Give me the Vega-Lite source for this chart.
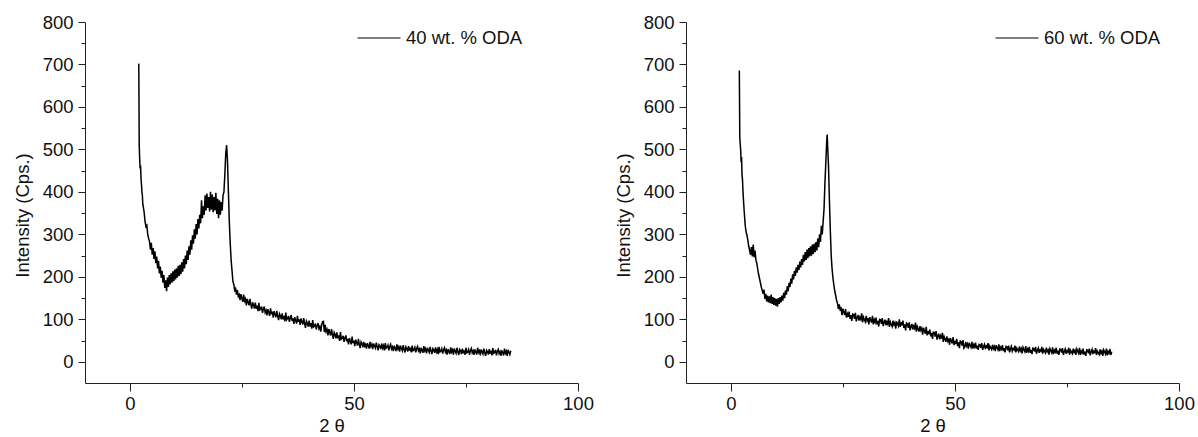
{
 "$schema": "https://vega.github.io/schema/vega-lite/v6.json",
 "padding": {"left": 13, "top": 13, "right": 0, "bottom": 0},
 "datasets": {
  "a": [
   {"t":2.0,"i":702},{"t":2.1,"i":510},{"t":2.2,"i":478},{"t":2.3,"i":455},{"t":2.4,"i":462},{"t":2.5,"i":430},{"t":2.6,"i":418},{"t":2.7,"i":400},{"t":2.8,"i":392},{"t":2.9,"i":371},{"t":3.0,"i":365},{"t":3.2,"i":352},{"t":3.4,"i":330},{"t":3.6,"i":318},{"t":3.8,"i":321},{"t":4.0,"i":300},{"t":4.2,"i":290},{"t":4.4,"i":283},{"t":4.6,"i":264},{"t":4.8,"i":280},{"t":5.0,"i":252},{"t":5.2,"i":268},{"t":5.4,"i":242},{"t":5.6,"i":260},{"t":5.8,"i":232},{"t":6.0,"i":248},{"t":6.2,"i":220},{"t":6.4,"i":238},{"t":6.6,"i":208},{"t":6.8,"i":224},{"t":7.0,"i":198},{"t":7.2,"i":214},{"t":7.4,"i":186},{"t":7.6,"i":204},{"t":7.8,"i":174},{"t":8.0,"i":192},{"t":8.2,"i":166},{"t":8.4,"i":198},{"t":8.6,"i":176},{"t":8.8,"i":204},{"t":9.0,"i":182},{"t":9.2,"i":208},{"t":9.4,"i":186},{"t":9.6,"i":213},{"t":9.8,"i":190},{"t":10.0,"i":217},{"t":10.2,"i":194},{"t":10.4,"i":220},{"t":10.6,"i":198},{"t":10.8,"i":226},{"t":11.0,"i":202},{"t":11.2,"i":228},{"t":11.4,"i":206},{"t":11.6,"i":234},{"t":11.8,"i":212},{"t":12.0,"i":242},{"t":12.2,"i":220},{"t":12.4,"i":250},{"t":12.6,"i":230},{"t":12.8,"i":262},{"t":13.0,"i":240},{"t":13.2,"i":272},{"t":13.4,"i":252},{"t":13.6,"i":286},{"t":13.8,"i":264},{"t":14.0,"i":298},{"t":14.2,"i":278},{"t":14.4,"i":312},{"t":14.6,"i":290},{"t":14.8,"i":324},{"t":15.0,"i":300},{"t":15.2,"i":336},{"t":15.4,"i":314},{"t":15.6,"i":346},{"t":15.8,"i":326},{"t":16.0,"i":380},{"t":16.2,"i":338},{"t":16.4,"i":366},{"t":16.6,"i":346},{"t":16.8,"i":392},{"t":17.0,"i":356},{"t":17.2,"i":396},{"t":17.4,"i":362},{"t":17.6,"i":388},{"t":17.8,"i":354},{"t":18.0,"i":400},{"t":18.2,"i":358},{"t":18.4,"i":394},{"t":18.6,"i":352},{"t":18.8,"i":388},{"t":19.0,"i":356},{"t":19.2,"i":398},{"t":19.4,"i":348},{"t":19.6,"i":384},{"t":19.8,"i":338},{"t":20.0,"i":380},{"t":20.2,"i":346},{"t":20.4,"i":376},{"t":20.6,"i":356},{"t":20.8,"i":392},{"t":21.0,"i":400},{"t":21.2,"i":440},{"t":21.4,"i":490},{"t":21.6,"i":510},{"t":21.8,"i":470},{"t":22.0,"i":400},{"t":22.2,"i":330},{"t":22.4,"i":280},{"t":22.6,"i":240},{"t":22.8,"i":215},{"t":23.0,"i":190},{"t":23.2,"i":182},{"t":23.4,"i":168},{"t":23.6,"i":172},{"t":23.8,"i":158},
   {"t":24.0,"i":169},{"t":24.2,"i":154},{"t":24.4,"i":158},{"t":24.6,"i":145},{"t":24.8,"i":159},{"t":25.0,"i":150},{"t":25.2,"i":141},{"t":25.4,"i":158},{"t":25.6,"i":143},{"t":25.8,"i":148},{"t":26.0,"i":133},{"t":26.2,"i":148},{"t":26.4,"i":140},{"t":26.6,"i":133},{"t":26.8,"i":148},{"t":27.0,"i":135},{"t":27.2,"i":125},{"t":27.4,"i":140},{"t":27.6,"i":134},{"t":27.8,"i":125},{"t":28.0,"i":139},{"t":28.2,"i":125},{"t":28.4,"i":132},{"t":28.6,"i":119},{"t":28.8,"i":139},{"t":29.0,"i":122},{"t":29.2,"i":124},{"t":29.4,"i":130},{"t":29.6,"i":115},{"t":29.8,"i":124},
   {"t":30.0,"i":130},{"t":30.2,"i":116},{"t":30.4,"i":121},{"t":30.6,"i":109},{"t":30.8,"i":124},{"t":31.0,"i":116},{"t":31.2,"i":108},{"t":31.4,"i":126},{"t":31.6,"i":112},{"t":31.8,"i":118},{"t":32.0,"i":104},{"t":32.2,"i":119},{"t":32.4,"i":111},{"t":32.6,"i":105},{"t":32.8,"i":120},{"t":33.0,"i":107},{"t":33.2,"i":98},{"t":33.4,"i":113},{"t":33.6,"i":108},{"t":33.8,"i":100},{"t":34.0,"i":114},{"t":34.2,"i":100},{"t":34.4,"i":108},{"t":34.6,"i":95},{"t":34.8,"i":116},{"t":35.0,"i":99},{"t":35.2,"i":102},{"t":35.4,"i":108},{"t":35.6,"i":94},{"t":35.8,"i":103},
   {"t":36.0,"i":110},{"t":36.2,"i":96},{"t":36.4,"i":102},{"t":36.6,"i":89},{"t":36.8,"i":105},{"t":37.0,"i":97},{"t":37.2,"i":90},{"t":37.4,"i":108},{"t":37.6,"i":94},{"t":37.8,"i":100},{"t":38.0,"i":87},{"t":38.2,"i":102},{"t":38.4,"i":94},{"t":38.6,"i":88},{"t":38.8,"i":103},{"t":39.0,"i":90},{"t":39.2,"i":80},{"t":39.4,"i":96},{"t":39.6,"i":91},{"t":39.8,"i":83},{"t":40.0,"i":97},{"t":40.2,"i":83},{"t":40.4,"i":91},{"t":40.6,"i":78},{"t":40.8,"i":98},{"t":41.0,"i":82},{"t":41.2,"i":84},{"t":41.4,"i":90},{"t":41.6,"i":76},{"t":41.8,"i":85},
   {"t":42.0,"i":91},{"t":42.2,"i":78},{"t":42.4,"i":83},{"t":42.6,"i":71},{"t":42.8,"i":86},{"t":43.0,"i":94},{"t":43.2,"i":95},{"t":43.4,"i":70},{"t":43.6,"i":87},{"t":43.8,"i":71},{"t":44.0,"i":76},{"t":44.2,"i":62},{"t":44.4,"i":77},{"t":44.6,"i":69},{"t":44.8,"i":62},{"t":45.0,"i":77},{"t":45.2,"i":64},{"t":45.4,"i":54},{"t":45.6,"i":69},{"t":45.8,"i":64},{"t":46.0,"i":55},{"t":46.2,"i":69},{"t":46.4,"i":55},{"t":46.6,"i":62},{"t":46.8,"i":49},{"t":47.0,"i":70},{"t":47.2,"i":53},{"t":47.4,"i":55},{"t":47.6,"i":61},{"t":47.8,"i":47},
   {"t":48.0,"i":56},{"t":48.2,"i":62},{"t":48.4,"i":48},{"t":48.6,"i":54},{"t":48.8,"i":41},{"t":49.0,"i":56},{"t":49.2,"i":48},{"t":49.4,"i":41},{"t":49.6,"i":59},{"t":49.8,"i":44},{"t":50.0,"i":50},{"t":50.2,"i":37},{"t":50.4,"i":52},{"t":50.6,"i":45},{"t":50.8,"i":38},{"t":51.0,"i":54},{"t":51.2,"i":41},{"t":51.4,"i":32},{"t":51.6,"i":47},{"t":51.8,"i":43},{"t":52.0,"i":34},
   {"t":52.2,"i":47},{"t":52.4,"i":37},{"t":52.6,"i":41},{"t":52.8,"i":31},{"t":53.0,"i":44},{"t":53.2,"i":38},{"t":53.4,"i":31},{"t":53.6,"i":47},{"t":53.8,"i":36},{"t":54.0,"i":41},{"t":54.2,"i":30},{"t":54.4,"i":43},{"t":54.6,"i":37},{"t":54.8,"i":32},{"t":55.0,"i":45},{"t":55.2,"i":35},{"t":55.4,"i":27},{"t":55.6,"i":40},{"t":55.8,"i":37},{"t":56.0,"i":30},{"t":56.2,"i":43},{"t":56.4,"i":32},{"t":56.6,"i":38},{"t":56.8,"i":27},{"t":57.0,"i":44},{"t":57.2,"i":32},{"t":57.4,"i":34},{"t":57.6,"i":39},{"t":57.8,"i":27},{"t":58.0,"i":36},
   {"t":58.2,"i":41},{"t":58.4,"i":30},{"t":58.6,"i":35},{"t":58.8,"i":25},{"t":59.0,"i":38},{"t":59.2,"i":32},{"t":59.4,"i":25},{"t":59.6,"i":41},{"t":59.8,"i":30},{"t":60.0,"i":35},{"t":60.2,"i":24},{"t":60.4,"i":38},{"t":60.6,"i":31},{"t":60.8,"i":26},{"t":61.0,"i":39},{"t":61.2,"i":29},{"t":61.4,"i":22},{"t":61.6,"i":35},{"t":61.8,"i":31},{"t":62.0,"i":24},{"t":62.2,"i":37},{"t":62.4,"i":26},{"t":62.6,"i":33},{"t":62.8,"i":22},{"t":63.0,"i":38},{"t":63.2,"i":26},{"t":63.4,"i":28},{"t":63.6,"i":34},{"t":63.8,"i":22},{"t":64.0,"i":31},
   {"t":64.2,"i":36},{"t":64.4,"i":26},{"t":64.6,"i":30},{"t":64.8,"i":20},{"t":65.0,"i":33},{"t":65.2,"i":27},{"t":65.4,"i":21},{"t":65.6,"i":37},{"t":65.8,"i":26},{"t":66.0,"i":31},{"t":66.2,"i":20},{"t":66.4,"i":33},{"t":66.6,"i":27},{"t":66.8,"i":22},{"t":67.0,"i":35},{"t":67.2,"i":25},{"t":67.4,"i":18},{"t":67.6,"i":31},{"t":67.8,"i":28},{"t":68.0,"i":21},{"t":68.2,"i":34},{"t":68.4,"i":23},{"t":68.6,"i":29},{"t":68.8,"i":18},{"t":69.0,"i":35},{"t":69.2,"i":23},{"t":69.4,"i":25},{"t":69.6,"i":31},{"t":69.8,"i":19},{"t":70.0,"i":28},
   {"t":70.2,"i":33},{"t":70.4,"i":23},{"t":70.6,"i":28},{"t":70.8,"i":17},{"t":71.0,"i":30},{"t":71.2,"i":24},{"t":71.4,"i":18},{"t":71.6,"i":34},{"t":71.8,"i":23},{"t":72.0,"i":28},{"t":72.2,"i":17},{"t":72.4,"i":31},{"t":72.6,"i":25},{"t":72.8,"i":20},{"t":73.0,"i":33},{"t":73.2,"i":23},{"t":73.4,"i":16},{"t":73.6,"i":29},{"t":73.8,"i":26},{"t":74.0,"i":18},{"t":74.2,"i":31},{"t":74.4,"i":20},{"t":74.6,"i":27},{"t":74.8,"i":16},{"t":75.0,"i":33},{"t":75.2,"i":21},{"t":75.4,"i":23},{"t":75.6,"i":29},{"t":75.8,"i":17},{"t":76.0,"i":26},
   {"t":76.2,"i":31},{"t":76.4,"i":21},{"t":76.6,"i":26},{"t":76.8,"i":16},{"t":77.0,"i":29},{"t":77.2,"i":23},{"t":77.4,"i":17},{"t":77.6,"i":33},{"t":77.8,"i":22},{"t":78.0,"i":26},{"t":78.2,"i":15},{"t":78.4,"i":29},{"t":78.6,"i":23},{"t":78.8,"i":18},{"t":79.0,"i":31},{"t":79.2,"i":21},{"t":79.4,"i":14},{"t":79.6,"i":27},{"t":79.8,"i":24},{"t":80.0,"i":17},{"t":80.2,"i":30},{"t":80.4,"i":19},{"t":80.6,"i":26},{"t":80.8,"i":15},{"t":81.0,"i":32},{"t":81.2,"i":20},{"t":81.4,"i":22},{"t":81.6,"i":28},{"t":81.8,"i":15},{"t":82.0,"i":24},
   {"t":82.2,"i":29},{"t":82.4,"i":19},{"t":82.6,"i":24},{"t":82.8,"i":14},{"t":83.0,"i":27},{"t":83.2,"i":21},{"t":83.4,"i":15},{"t":83.6,"i":31},{"t":83.8,"i":20},{"t":84.0,"i":25},{"t":84.2,"i":14},{"t":84.4,"i":28},{"t":84.6,"i":22},{"t":84.8,"i":17},{"t":85.0,"i":26}
  ],
  "b": [
   {"t":1.9,"i":686},{"t":2.0,"i":530},{"t":2.1,"i":512},{"t":2.2,"i":498},{"t":2.3,"i":470},{"t":2.4,"i":482},{"t":2.5,"i":440},{"t":2.6,"i":430},{"t":2.7,"i":405},{"t":2.8,"i":385},{"t":2.9,"i":368},{"t":3.0,"i":352},{"t":3.1,"i":338},{"t":3.2,"i":322},{"t":3.4,"i":306},{"t":3.6,"i":298},{"t":3.8,"i":286},{"t":4.0,"i":272},{"t":4.2,"i":262},{"t":4.4,"i":252},{"t":4.6,"i":270},{"t":4.8,"i":248},{"t":5.0,"i":276},{"t":5.2,"i":246},{"t":5.4,"i":262},{"t":5.6,"i":240},{"t":5.8,"i":232},{"t":6.0,"i":218},{"t":6.2,"i":206},{"t":6.4,"i":196},{"t":6.6,"i":186},{"t":6.8,"i":176},{"t":7.0,"i":168},{"t":7.2,"i":160},{"t":7.4,"i":170},{"t":7.6,"i":148},{"t":7.8,"i":160},{"t":8.0,"i":142},{"t":8.2,"i":156},{"t":8.4,"i":140},{"t":8.6,"i":154},{"t":8.8,"i":138},{"t":9.0,"i":158},{"t":9.2,"i":136},{"t":9.4,"i":152},{"t":9.6,"i":134},{"t":9.8,"i":150},{"t":10.0,"i":132},{"t":10.2,"i":148},{"t":10.4,"i":130},{"t":10.6,"i":150},{"t":10.8,"i":136},{"t":11.0,"i":152},{"t":11.2,"i":140},{"t":11.4,"i":156},{"t":11.6,"i":144},{"t":11.8,"i":162},{"t":12.0,"i":150},{"t":12.2,"i":168},{"t":12.4,"i":158},{"t":12.6,"i":178},{"t":12.8,"i":166},{"t":13.0,"i":186},{"t":13.2,"i":176},{"t":13.4,"i":196},{"t":13.6,"i":184},{"t":13.8,"i":206},{"t":14.0,"i":194},{"t":14.2,"i":214},{"t":14.4,"i":202},{"t":14.6,"i":222},{"t":14.8,"i":210},{"t":15.0,"i":228},{"t":15.2,"i":216},{"t":15.4,"i":236},{"t":15.6,"i":222},{"t":15.8,"i":242},{"t":16.0,"i":228},{"t":16.2,"i":252},{"t":16.4,"i":236},{"t":16.6,"i":258},{"t":16.8,"i":240},{"t":17.0,"i":264},{"t":17.2,"i":244},{"t":17.4,"i":268},{"t":17.6,"i":248},{"t":17.8,"i":272},{"t":18.0,"i":250},{"t":18.2,"i":276},{"t":18.4,"i":254},{"t":18.6,"i":278},{"t":18.8,"i":258},{"t":19.0,"i":282},{"t":19.2,"i":262},{"t":19.4,"i":290},{"t":19.6,"i":270},{"t":19.8,"i":300},{"t":20.0,"i":282},{"t":20.2,"i":320},{"t":20.4,"i":300},{"t":20.6,"i":330},{"t":20.8,"i":360},{"t":21.0,"i":420},{"t":21.2,"i":470},{"t":21.4,"i":520},{"t":21.5,"i":535},{"t":21.6,"i":510},{"t":21.8,"i":460},{"t":22.0,"i":380},{"t":22.2,"i":310},{"t":22.4,"i":250},{"t":22.6,"i":218},{"t":22.8,"i":196},{"t":23.0,"i":180},{"t":23.2,"i":166},{"t":23.4,"i":156},{"t":23.6,"i":144},{"t":23.8,"i":138},
   {"t":24.0,"i":124},{"t":24.2,"i":135},{"t":24.4,"i":123},{"t":24.6,"i":126},{"t":24.8,"i":110},{"t":25.0,"i":125},{"t":25.2,"i":117},{"t":25.4,"i":110},{"t":25.6,"i":124},{"t":25.8,"i":104},{"t":26.0,"i":113},{"t":26.2,"i":106},{"t":26.4,"i":118},{"t":26.6,"i":101},{"t":26.8,"i":110},{"t":27.0,"i":96},{"t":27.2,"i":112},{"t":27.4,"i":111},{"t":27.6,"i":101},{"t":27.8,"i":115},{"t":28.0,"i":95},{"t":28.2,"i":104},{"t":28.4,"i":110},{"t":28.6,"i":97},{"t":28.8,"i":105},{"t":29.0,"i":100},{"t":29.2,"i":114},{"t":29.4,"i":93},{"t":29.6,"i":105},{"t":29.8,"i":99},
   {"t":30.0,"i":94},{"t":30.2,"i":108},{"t":30.4,"i":97},{"t":30.6,"i":103},{"t":30.8,"i":88},{"t":31.0,"i":105},{"t":31.2,"i":99},{"t":31.4,"i":92},{"t":31.6,"i":108},{"t":31.8,"i":88},{"t":32.0,"i":99},{"t":32.2,"i":93},{"t":32.4,"i":104},{"t":32.6,"i":88},{"t":32.8,"i":96},{"t":33.0,"i":83},{"t":33.2,"i":100},{"t":33.4,"i":99},{"t":33.6,"i":89},{"t":33.8,"i":103},{"t":34.0,"i":84},{"t":34.2,"i":93},{"t":34.4,"i":99},{"t":34.6,"i":86},{"t":34.8,"i":94},{"t":35.0,"i":89},{"t":35.2,"i":103},{"t":35.4,"i":82},{"t":35.6,"i":94},{"t":35.8,"i":88},
   {"t":36.0,"i":83},{"t":36.2,"i":97},{"t":36.4,"i":87},{"t":36.6,"i":92},{"t":36.8,"i":78},{"t":37.0,"i":95},{"t":37.2,"i":89},{"t":37.4,"i":84},{"t":37.6,"i":100},{"t":37.8,"i":82},{"t":38.0,"i":93},{"t":38.2,"i":86},{"t":38.4,"i":97},{"t":38.6,"i":80},{"t":38.8,"i":88},{"t":39.0,"i":74},{"t":39.2,"i":91},{"t":39.4,"i":89},{"t":39.6,"i":80},{"t":39.8,"i":93},{"t":40.0,"i":74},{"t":40.2,"i":83},{"t":40.4,"i":89},{"t":40.6,"i":76},{"t":40.8,"i":84},{"t":41.0,"i":79},{"t":41.2,"i":92},{"t":41.4,"i":71},{"t":41.6,"i":83},{"t":41.8,"i":77},
   {"t":42.0,"i":71},{"t":42.2,"i":84},{"t":42.4,"i":74},{"t":42.6,"i":79},{"t":42.8,"i":64},{"t":43.0,"i":80},{"t":43.2,"i":73},{"t":43.4,"i":66},{"t":43.6,"i":82},{"t":43.8,"i":62},{"t":44.0,"i":72},{"t":44.2,"i":65},{"t":44.4,"i":76},{"t":44.6,"i":60},{"t":44.8,"i":68},{"t":45.0,"i":54},{"t":45.2,"i":70},{"t":45.4,"i":69},{"t":45.6,"i":59},{"t":45.8,"i":72},{"t":46.0,"i":52},{"t":46.2,"i":60},{"t":46.4,"i":66},{"t":46.6,"i":53},{"t":46.8,"i":61},{"t":47.0,"i":55},{"t":47.2,"i":68},{"t":47.4,"i":47},{"t":47.6,"i":59},{"t":47.8,"i":53},
   {"t":48.0,"i":47},{"t":48.2,"i":60},{"t":48.4,"i":49},{"t":48.6,"i":55},{"t":48.8,"i":40},{"t":49.0,"i":56},{"t":49.2,"i":49},{"t":49.4,"i":43},{"t":49.6,"i":58},{"t":49.8,"i":39},{"t":50.0,"i":49},{"t":50.2,"i":42},{"t":50.4,"i":54},{"t":50.6,"i":37},{"t":50.8,"i":46},{"t":51.0,"i":32},{"t":51.2,"i":49},{"t":51.4,"i":47},{"t":51.6,"i":38},{"t":51.8,"i":51},{"t":52.0,"i":32},
   {"t":52.2,"i":35},{"t":52.4,"i":47},{"t":52.6,"i":37},{"t":52.8,"i":42},{"t":53.0,"i":31},{"t":53.2,"i":45},{"t":53.4,"i":39},{"t":53.6,"i":34},{"t":53.8,"i":47},{"t":54.0,"i":31},{"t":54.2,"i":40},{"t":54.4,"i":35},{"t":54.6,"i":45},{"t":54.8,"i":31},{"t":55.0,"i":38},{"t":55.2,"i":28},{"t":55.4,"i":41},{"t":55.6,"i":40},{"t":55.8,"i":33},{"t":56.0,"i":44},{"t":56.2,"i":28},{"t":56.4,"i":36},{"t":56.6,"i":41},{"t":56.8,"i":30},{"t":57.0,"i":37},{"t":57.2,"i":34},{"t":57.4,"i":44},{"t":57.6,"i":27},{"t":57.8,"i":37},{"t":58.0,"i":33},
   {"t":58.2,"i":29},{"t":58.4,"i":40},{"t":58.6,"i":31},{"t":58.8,"i":36},{"t":59.0,"i":25},{"t":59.2,"i":39},{"t":59.4,"i":33},{"t":59.6,"i":28},{"t":59.8,"i":41},{"t":60.0,"i":25},{"t":60.2,"i":34},{"t":60.4,"i":30},{"t":60.6,"i":39},{"t":60.8,"i":25},{"t":61.0,"i":32},{"t":61.2,"i":22},{"t":61.4,"i":36},{"t":61.6,"i":35},{"t":61.8,"i":27},{"t":62.0,"i":38},{"t":62.2,"i":22},{"t":62.4,"i":30},{"t":62.6,"i":36},{"t":62.8,"i":25},{"t":63.0,"i":31},{"t":63.2,"i":28},{"t":63.4,"i":38},{"t":63.6,"i":22},{"t":63.8,"i":32},{"t":64.0,"i":28},
   {"t":64.2,"i":24},{"t":64.4,"i":36},{"t":64.6,"i":26},{"t":64.8,"i":31},{"t":65.0,"i":20},{"t":65.2,"i":34},{"t":65.4,"i":29},{"t":65.6,"i":24},{"t":65.8,"i":37},{"t":66.0,"i":21},{"t":66.2,"i":30},{"t":66.4,"i":25},{"t":66.6,"i":35},{"t":66.8,"i":21},{"t":67.0,"i":28},{"t":67.2,"i":18},{"t":67.4,"i":32},{"t":67.6,"i":31},{"t":67.8,"i":24},{"t":68.0,"i":35},{"t":68.2,"i":19},{"t":68.4,"i":27},{"t":68.6,"i":32},{"t":68.8,"i":21},{"t":69.0,"i":28},{"t":69.2,"i":25},{"t":69.4,"i":35},{"t":69.6,"i":19},{"t":69.8,"i":29},{"t":70.0,"i":25},
   {"t":70.2,"i":21},{"t":70.4,"i":33},{"t":70.6,"i":24},{"t":70.8,"i":28},{"t":71.0,"i":17},{"t":71.2,"i":31},{"t":71.4,"i":26},{"t":71.6,"i":21},{"t":71.8,"i":34},{"t":72.0,"i":18},{"t":72.2,"i":27},{"t":72.4,"i":23},{"t":72.6,"i":33},{"t":72.8,"i":19},{"t":73.0,"i":26},{"t":73.2,"i":16},{"t":73.4,"i":30},{"t":73.6,"i":29},{"t":73.8,"i":22},{"t":74.0,"i":32},{"t":74.2,"i":16},{"t":74.4,"i":24},{"t":74.6,"i":30},{"t":74.8,"i":19},{"t":75.0,"i":26},{"t":75.2,"i":23},{"t":75.4,"i":33},{"t":75.6,"i":17},{"t":75.8,"i":27},{"t":76.0,"i":23},
   {"t":76.2,"i":19},{"t":76.4,"i":31},{"t":76.6,"i":22},{"t":76.8,"i":27},{"t":77.0,"i":16},{"t":77.2,"i":30},{"t":77.4,"i":25},{"t":77.6,"i":20},{"t":77.8,"i":33},{"t":78.0,"i":16},{"t":78.2,"i":25},{"t":78.4,"i":21},{"t":78.6,"i":31},{"t":78.8,"i":17},{"t":79.0,"i":24},{"t":79.2,"i":14},{"t":79.4,"i":28},{"t":79.6,"i":27},{"t":79.8,"i":20},{"t":80.0,"i":31},{"t":80.2,"i":15},{"t":80.4,"i":23},{"t":80.6,"i":29},{"t":80.8,"i":18},{"t":81.0,"i":25},{"t":81.2,"i":22},{"t":81.4,"i":32},{"t":81.6,"i":16},{"t":81.8,"i":25},{"t":82.0,"i":21},
   {"t":82.2,"i":17},{"t":82.4,"i":29},{"t":82.6,"i":20},{"t":82.8,"i":25},{"t":83.0,"i":14},{"t":83.2,"i":28},{"t":83.4,"i":23},{"t":83.6,"i":18},{"t":83.8,"i":31},{"t":84.0,"i":15},{"t":84.2,"i":24},{"t":84.4,"i":20},{"t":84.6,"i":30},{"t":84.8,"i":16},{"t":85.0,"i":24}
  ]
 },
 "hconcat": [
  {
   "width": 493, "height": 361,
   "data": {"name": "a"},
   "mark": {"type": "line", "strokeWidth": 1.5},
   "encoding": {
    "x": {"field": "t", "type": "quantitative", "scale": {"domain": [-10, 100], "nice": false, "zero": false},
      "axis": {"title": "2 θ", "values": [0, 25, 50, 75, 100], "labelExpr": "datum.value % 50 === 0 ? datum.label : ''",
        "tickSize": {"condition": {"test": "datum.value % 50 === 0", "value": 8}, "value": 4}, "labelPadding": 3, "titlePadding": 4}},
    "y": {"field": "i", "type": "quantitative", "scale": {"domain": [-50, 800], "nice": false, "zero": false},
      "axis": {"title": "Intensity (Cps.)", "values": [0,50,100,150,200,250,300,350,400,450,500,550,600,650,700,750,800],
        "labelExpr": "datum.value % 100 === 0 ? datum.label : ''",
        "tickSize": {"condition": {"test": "datum.value % 100 === 0", "value": 7}, "value": 4}, "labelPadding": 5, "titlePadding": 10, "titleY": 193}},
    "color": {"datum": "40 wt. % ODA", "type": "nominal", "scale": {"range": ["black"]},
      "legend": {"title": null, "orient": "none", "legendX": 272, "legendY": -6, "symbolType": "stroke", "symbolSize": 1849, "symbolStrokeWidth": 1, "symbolStrokeColor": "black", "labelFontSize": 18.5, "labelFont": "Liberation Sans", "labelColor": "#111", "labelOffset": 5, "padding": 0}}
   }
  },
  {
   "width": 493, "height": 361,
   "data": {"name": "b"},
   "mark": {"type": "line", "strokeWidth": 1.5},
   "encoding": {
    "x": {"field": "t", "type": "quantitative", "scale": {"domain": [-10, 100], "nice": false, "zero": false},
      "axis": {"title": "2 θ", "values": [0, 25, 50, 75, 100], "labelExpr": "datum.value % 50 === 0 ? datum.label : ''",
        "tickSize": {"condition": {"test": "datum.value % 50 === 0", "value": 8}, "value": 4}, "labelPadding": 3, "titlePadding": 4}},
    "y": {"field": "i", "type": "quantitative", "scale": {"domain": [-50, 800], "nice": false, "zero": false},
      "axis": {"title": "Intensity (Cps.)", "values": [0,50,100,150,200,250,300,350,400,450,500,550,600,650,700,750,800],
        "labelExpr": "datum.value % 100 === 0 ? datum.label : ''",
        "tickSize": {"condition": {"test": "datum.value % 100 === 0", "value": 7}, "value": 4}, "labelPadding": 5, "titlePadding": 10, "titleY": 193}},
    "color": {"datum": "60 wt. % ODA", "type": "nominal", "scale": {"range": ["black"]},
      "legend": {"title": null, "orient": "none", "legendX": 309, "legendY": -6, "symbolType": "stroke", "symbolSize": 1849, "symbolStrokeWidth": 1, "symbolStrokeColor": "black", "labelFontSize": 18.5, "labelFont": "Liberation Sans", "labelColor": "#111", "labelOffset": 5, "padding": 0}}
   }
  }
 ],
 "spacing": 20,
 "resolve": {"scale": {"color": "independent"}},
 "config": {
  "view": {"stroke": null},
  "font": "Liberation Sans",
  "axis": {"grid": false, "domainColor": "#222", "domainWidth": 1, "tickColor": "#222", "tickWidth": 1,
    "labelColor": "#111", "titleColor": "#111", "labelFont": "Liberation Sans", "titleFont": "Liberation Sans",
    "labelFontSize": 18.5, "titleFontSize": 18.5, "titleFontWeight": "normal", "labelFlush": false, "labelOverlap": false}
 }
}
